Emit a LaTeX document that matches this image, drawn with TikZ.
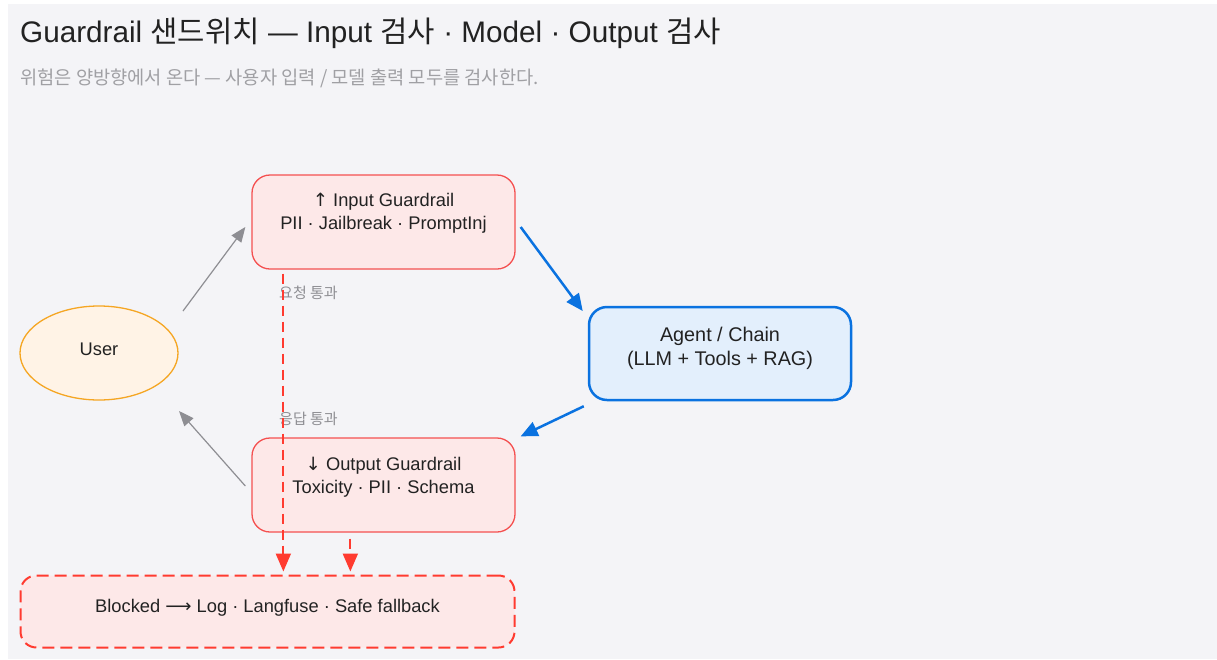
\documentclass[tikz,border=0pt]{standalone}
\usepackage{fontspec}
\setmainfont{Liberation Sans}
\newfontfamily\kr{Noto Sans CJK KR}
\newfontfamily\sym{DejaVu Sans}
\usetikzlibrary{arrows.meta,calc,shapes.geometric}
\definecolor{panel}{RGB}{244,244,247}
\definecolor{ink}{RGB}{34,34,34}
\definecolor{subgray}{RGB}{160,160,164}
\definecolor{redfill}{RGB}{253,232,232}
\definecolor{redline}{RGB}{244,80,80}
\definecolor{reddash}{RGB}{255,59,48}
\definecolor{bluefill}{RGB}{227,239,252}
\definecolor{blueline}{RGB}{10,114,224}
\definecolor{userfill}{RGB}{255,243,230}
\definecolor{userline}{RGB}{245,166,35}
\definecolor{arrowgray}{RGB}{142,142,147}
\tikzset{
  gbox/.style={draw=redline, fill=redfill, line width=1.3pt, rounded corners=18pt, minimum width=263pt, minimum height=94pt, inner sep=0pt},
  abox/.style={draw=blueline, fill=bluefill, line width=2.5pt, rounded corners=18pt, minimum width=262pt, minimum height=93pt, inner sep=0pt},
  bbox/.style={draw=reddash, fill=redfill, line width=2pt, dash pattern=on 12pt off 6pt, rounded corners=16pt, minimum width=494pt, minimum height=72pt, inner sep=0pt},
  ubox/.style={ellipse, draw=userline, fill=userfill, line width=1.3pt, minimum width=158pt, minimum height=94pt, inner sep=0pt},
  boxtext/.style={text=ink, font=\fontsize{18.3pt}{23pt}\selectfont, align=center, inner sep=0pt},
  agenttext/.style={text=ink, font=\fontsize{19.8pt}{24pt}\selectfont, align=center, inner sep=0pt},
  lbl/.style={text=arrowgray, font=\kr\fontsize{15pt}{17pt}\selectfont, inner sep=0pt, anchor=west},
  grayarrow/.style={draw=arrowgray, line width=1.2pt, -{Triangle[length=15pt,width=12pt]}},
  bluearrow/.style={draw=blueline, line width=2.5pt, -{Triangle[length=17pt,width=15pt]}},
  redarrow/.style={draw=reddash, line width=2pt, dash pattern=on 10pt off 6pt, -{Triangle[length=18pt,width=15pt]}},
}
\begin{document}
\begin{tikzpicture}[x=1pt,y=-1pt]
\useasboundingbox (0,0) rectangle (1217,659);
\fill[white] (0,0) rectangle (1217,659);
\fill[panel] (8,4) rectangle (1217,659);

\node[anchor=west, text=ink, font=\fontsize{29.7pt}{32pt}\selectfont, inner sep=0pt] (title) at (20,33)
  {Guardrail {\kr 샌드위치} — Input {\kr 검사} · Model · Output {\kr 검사}};
\node[anchor=west, text=subgray, font=\kr\fontsize{18.7pt}{20pt}\selectfont, inner sep=0pt] (subtitle) at (20,78.5)
  {위험은 양방향에서 온다 — 사용자 입력 / 모델 출력 모두를 검사한다.};

% boxes
\node[gbox] (inbox) at (383.5,222) {};
\node[boxtext] (intext) at (383.5,213.5) {{\sym ↑} Input Guardrail\\PII · Jailbreak · PromptInj};

\node[abox] (agent) at (720,353.5) {};
\node[agenttext] (agenttxt) at (720,348) {Agent / Chain\\(LLM + Tools + RAG)};

\node[gbox] (outbox) at (383.5,485) {};
\node[boxtext] (outtext) at (383.5,477.5) {{\sym ↓} Output Guardrail\\Toxicity · PII · Schema};

\node[bbox] (blocked) at (267.5,611.5) {};
\node[boxtext] (blocktext) at (267.5,608) {Blocked {\sym ⟶} Log · Langfuse · Safe fallback};

\node[ubox] (user) at (99,353) {};
\node[boxtext] (usertext) at (99,349) {User};

% labels
\node[lbl] (lblreq) at (279,293) {요청 통과};
\node[lbl] (lblres) at (279,419) {응답 통과};

% connectors
\draw[grayarrow] ($(user.center)+(84,-42)$) -- ($(inbox.west)+(-6,5)$);
\draw[bluearrow] ($(inbox.east)+(5,5)$) -- ($(agent.west)+(-5,-42.5)$);
\draw[bluearrow] ($(agent.south west)+(-4,5)$) -- ($(outbox.north east)+(5,-1)$);
\draw[grayarrow] ($(outbox.west)+(-6,1)$) -- ($(user.center)+(80,58)$);
\coordinate (redA) at ($(inbox.south west)+(32,4)$);
\coordinate (redB) at ($(outbox.south west)+(99,6)$);
\draw[redarrow] (redA) -- ($(redA |- blocked.north)+(0,-3)$);
\draw[redarrow] (redB) -- ($(redB |- blocked.north)+(0,-3)$);
\end{tikzpicture}
\end{document}
